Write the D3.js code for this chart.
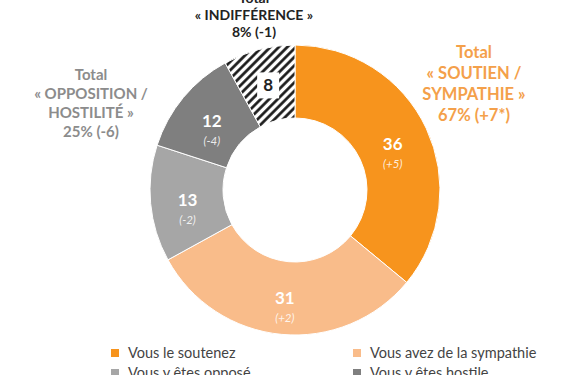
<!DOCTYPE html>
<html>
<head>
<script src="https://d3js.org/d3.v7.min.js"></script>
<style>
  body { margin: 0; background: #fff; }
  text { font-family: Lato, "Open Sans", sans-serif; }
</style>
</head>
<body>
<div id="chart"></div>
<script>
const categories = ["Vous le soutenez", "Vous avez de la sympathie", "Vous y êtes opposé", "Vous y êtes hostile", "Indifférence"];
const values = [36, 31, 13, 12, 8];
const changes = ["(+5)", "(+2)", "(-2)", "(-4)", ""];
const colors = ["#F7941D", "#F9BC8A", "#A6A6A6", "#7F7F7F", "url(#hatch)"];
const legendItems = categories.slice(0, 4);

const W = 580, H = 375;
const cx = 295, cy = 190, rOuter = 145, rInner = 72;

const svg = d3.select("#chart").append("svg")
    .attr("width", W).attr("height", H);

// hatch pattern for the indifference slice
const pat = svg.append("defs").append("pattern")
    .attr("id", "hatch")
    .attr("patternUnits", "userSpaceOnUse")
    .attr("width", 6).attr("height", 6)
    .attr("patternTransform", "rotate(45)");
pat.append("rect").attr("width", 6).attr("height", 6).attr("fill", "#fff");
pat.append("line").attr("x1", 1.5).attr("y1", 0).attr("x2", 1.5).attr("y2", 6)
    .attr("stroke", "#111").attr("stroke-width", 2.6);

const pie = d3.pie().sort(null).value(d => d);
const arc = d3.arc().innerRadius(rInner).outerRadius(rOuter);
const labelArc = d3.arc().innerRadius(108).outerRadius(108);

const g = svg.append("g").attr("transform", `translate(${cx},${cy})`);
const arcs = pie(values);

g.selectAll("path")
    .data(arcs)
    .enter().append("path")
    .attr("d", arc)
    .attr("fill", (d, i) => colors[i])
    .attr("stroke", "#fff")
    .attr("stroke-width", 1);

// slice labels
arcs.forEach((d, i) => {
    const [lx, ly] = labelArc.centroid(d);
    if (i === 4) {
        g.append("rect").attr("x", lx - 11).attr("y", ly - 13)
            .attr("width", 22).attr("height", 26).attr("fill", "#fff");
        g.append("text").attr("x", lx).attr("y", ly + 6)
            .attr("text-anchor", "middle").attr("font-size", 17).attr("font-weight", "bold")
            .attr("fill", "#222").text(values[i]);
        return;
    }
    g.append("text").attr("x", lx).attr("y", ly + 6)
        .attr("text-anchor", "middle").attr("font-size", 17).attr("font-weight", "bold")
        .attr("fill", "#fff").text(values[i]);
    g.append("text").attr("x", lx).attr("y", ly + 24)
        .attr("text-anchor", "middle").attr("font-size", 11.5).attr("font-style", "italic")
        .attr("fill", "#fff").attr("fill-opacity", 0.85).text(changes[i]);
});

// total annotations
function block(x, y0, lines, step, size, color) {
    svg.append("text")
        .attr("text-anchor", "middle").attr("font-size", size).attr("font-weight", "bold")
        .attr("fill", color)
        .selectAll("tspan").data(lines).enter().append("tspan")
        .attr("x", x).attr("y", (d, i) => y0 + i * step)
        .text(d => d);
}
block(254, 3, ["Total", "« INDIFFÉRENCE »", "8% (-1)"], 17, 14, "#222");
block(474, 58, ["Total", "« SOUTIEN /", "SYMPATHIE »", "67% (+7*)"], 21, 16.5, "#F4A04A");
block(91, 80, ["Total", "« OPPOSITION /", "HOSTILITÉ »", "25% (-6)"], 19, 15, "#8C8C8C");

// legend
const legendX = [115, 357], legendY = [353, 373];
const leg = svg.selectAll(".legend")
    .data(legendItems)
    .enter().append("g")
    .attr("class", "legend")
    .attr("transform", (d, i) => `translate(${legendX[i % 2]},${legendY[Math.floor(i / 2)]})`);
leg.append("rect").attr("x", -4).attr("y", -4).attr("width", 8).attr("height", 8)
    .attr("fill", (d, i) => colors[i]);
leg.append("text").attr("x", 13).attr("y", 5)
    .attr("font-size", 14.5).attr("fill", "#444").text(d => d);
</script>
</body>
</html>
